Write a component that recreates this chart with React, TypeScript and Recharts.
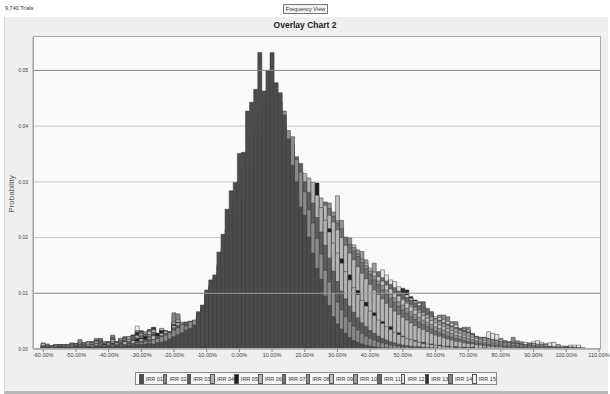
import { BarChart, Bar, XAxis, YAxis, CartesianGrid, ReferenceLine } from "recharts";

// bins are 1.25% wide, each series array starts at -60% (values in units of 0.0001)
const firstBin = -60;
const binStep = 1.25;

const seriesNames = [
  "IRR 01", "IRR 02", "IRR 03", "IRR 04", "IRR 05", "IRR 06", "IRR 07", "IRR 08",
  "IRR 09", "IRR 10", "IRR 11", "IRR 12", "IRR 13", "IRR 14", "IRR 15",
];

const seriesColors = [
  "#4c4c4c", "#8a8a8a", "#5e5e5e", "#b2b2b2", "#1e1e1e", "#b6b6b6", "#727272", "#909090",
  "#bebebe", "#9c9c9c", "#6a6a6a", "#e2e2e2", "#2a2a2a", "#888888", "#ececec",
];

const irr01 = [
  2, 3, 2, 3, 2, 3, 3, 2,
  3, 4, 3, 4, 3, 4, 5, 4,
  5, 4, 6, 5, 6, 7, 6, 8,
  8, 9, 10, 9, 11, 12, 14, 18,
  22, 26, 29, 34, 37, 43, 67, 79,
  106, 124, 133, 174, 206, 251, 284, 299,
  351, 353, 427, 443, 466, 532, 463, 500,
  532, 478, 460, 420, 377, 330, 300, 255,
  240, 201, 172, 145, 125, 95, 78, 58,
  45, 36, 28, 21, 15, 12, 9, 7,
  5, 4, 3, 2, 2, 1, 1, 1,
  1, 0, 0, 0, 0, 0, 0, 0,
];

const irr02 = [
  1, 2, 1, 2, 2, 1, 2, 3,
  3, 2, 4, 3, 3, 4, 5, 4,
  5, 6, 5, 7, 8, 9, 8, 11,
  12, 14, 13, 17, 19, 22, 25, 29,
  34, 38, 44, 41, 49, 52, 64, 78,
  98, 114, 128, 152, 180, 214, 240, 268,
  300, 322, 350, 381, 400, 421, 440, 452,
  461, 455, 442, 427, 392, 381, 340, 318,
  282, 250, 226, 198, 170, 141, 120, 101,
  84, 70, 58, 49, 41, 34, 28, 23,
  19, 16, 13, 11, 9, 7, 6, 5,
  4, 4, 3, 3, 2, 2, 2, 1,
  1, 1, 1, 1, 0, 1, 0, 0,
];

const irr03 = [
  2, 1, 2, 2, 3, 2, 2, 3,
  3, 4, 3, 5, 4, 4, 6, 5,
  7, 6, 8, 9, 8, 11, 10, 13,
  14, 16, 18, 17, 22, 24, 28, 31,
  38, 42, 45, 48, 50, 51, 62, 74,
  96, 110, 126, 148, 170, 196, 222, 247,
  272, 296, 318, 340, 362, 378, 392, 404,
  410, 414, 408, 397, 380, 366, 345, 333,
  300, 281, 262, 236, 210, 186, 163, 140,
  121, 104, 90, 77, 66, 56, 47, 40,
  33, 28, 23, 19, 16, 13, 11, 9,
  7, 6, 5, 4, 4, 3, 2, 2,
  2, 1, 1, 1, 1, 1, 0, 0,
  1, 0, 0, 0, 0, 0, 0, 0,
];

const irr04 = [
  3, 2, 4, 3, 2, 4, 3, 5,
  4, 6, 5, 4, 7, 6, 8, 7,
  9, 8, 11, 10, 13, 12, 15, 14,
  18, 17, 21, 24, 23, 28, 32, 30,
  42, 47, 48, 46, 49, 50, 60, 72,
  92, 106, 120, 138, 154, 176, 198, 220,
  244, 266, 288, 306, 322, 338, 350, 360,
  366, 372, 370, 364, 356, 348, 332, 318,
  315, 307, 299, 276, 254, 231, 210, 190,
  172, 154, 139, 124, 110, 98, 87, 77,
  68, 60, 52, 46, 40, 35, 30, 26,
  22, 19, 17, 14, 12, 10, 9, 8,
  7, 6, 5, 4, 4, 3, 3, 2,
  2, 2, 1, 1, 1, 1, 1, 0,
  0, 0, 1, 0, 0, 0, 0, 0,
];

const irr05 = [
  2, 3, 2, 3, 4, 3, 4, 3,
  5, 4, 6, 5, 7, 6, 7, 9,
  8, 10, 12, 11, 14, 13, 16, 18,
  20, 23, 22, 26, 28, 33, 31, 29,
  44, 48, 46, 44, 48, 47, 58, 70,
  90, 102, 116, 130, 146, 162, 180, 200,
  218, 238, 256, 274, 290, 302, 316, 324,
  332, 338, 340, 336, 330, 322, 314, 304,
  290, 284, 272, 298, 250, 226, 216, 186,
  165, 162, 134, 133, 106, 105, 83, 84,
  66, 65, 50, 49, 38, 40, 28, 29,
  23, 18, 16, 15, 11, 12, 8, 9,
  6, 7, 4, 5, 3, 4, 2, 3,
  2, 3, 1, 1, 2, 1, 0, 1,
  1, 0, 1, 0, 0, 1, 0, 0,
];

const irr06 = [
  3, 4, 3, 5, 4, 4, 6, 5,
  6, 5, 7, 8, 6, 9, 8, 10,
  11, 10, 13, 12, 15, 17, 16, 19,
  22, 21, 25, 28, 27, 32, 31, 31,
  40, 45, 44, 47, 46, 48, 56, 66,
  86, 98, 110, 122, 136, 150, 166, 184,
  200, 216, 232, 248, 262, 276, 288, 298,
  306, 312, 316, 318, 316, 310, 304, 298,
  288, 280, 270, 262, 271, 258, 240, 228,
  214, 200, 186, 172, 160, 148, 136, 126,
  116, 106, 98, 90, 82, 75, 68, 62,
  57, 52, 47, 42, 38, 35, 31, 28,
  25, 23, 20, 18, 16, 14, 13, 11,
  10, 9, 8, 7, 6, 5, 5, 4,
  4, 3, 3, 3, 2, 2, 2, 1,
  1, 1, 1, 1, 1, 0, 0, 0,
];

const irr07 = [
  4, 3, 5, 4, 6, 5, 5, 7,
  6, 8, 7, 9, 8, 10, 11, 10,
  12, 10, 13, 16, 15, 18, 20, 19,
  23, 26, 25, 29, 26, 30, 32, 30,
  42, 47, 45, 44, 47, 46, 55, 64,
  82, 92, 102, 112, 124, 136, 150, 165,
  180, 194, 208, 222, 236, 248, 258, 268,
  276, 282, 287, 290, 292, 291, 288, 284,
  279, 272, 264, 256, 248, 264, 252, 238,
  226, 216, 201, 188, 176, 166, 155, 144,
  134, 124, 115, 106, 98, 91, 84, 77,
  70, 64, 58, 53, 48, 44, 40, 36,
  32, 29, 26, 23, 21, 19, 17, 15,
  13, 12, 11, 10, 9, 8, 7, 6,
  5, 5, 4, 4, 3, 3, 3, 2,
  2, 2, 1, 1, 1, 1, 1, 0,
];

const irr08 = [
  4, 5, 4, 6, 5, 7, 6, 6,
  8, 7, 9, 8, 11, 10, 12, 11,
  13, 14, 12, 16, 18, 17, 21, 20,
  24, 27, 26, 30, 28, 32, 30, 29,
  44, 46, 43, 45, 47, 49, 54, 62,
  78, 86, 96, 106, 116, 127, 138, 152,
  165, 178, 190, 203, 215, 226, 236, 245,
  252, 258, 263, 266, 268, 269, 268, 266,
  262, 258, 252, 246, 240, 234, 262, 246,
  230, 231, 196, 199, 182, 170, 160, 150,
  140, 131, 122, 114, 106, 99, 92, 85,
  79, 73, 67, 62, 57, 52, 48, 44,
  40, 37, 34, 31, 28, 25, 23, 21,
  19, 17, 15, 14, 12, 11, 10, 9,
  8, 7, 6, 6, 5, 4, 4, 3,
  3, 3, 2, 2, 2, 2, 1, 1,
  1, 1, 0, 0, 0,
];

const irr09 = [
  5, 4, 6, 5, 7, 6, 8, 7,
  9, 8, 10, 12, 11, 13, 12, 13,
  13, 17, 13, 19, 18, 22, 21, 24,
  27, 26, 31, 34, 28, 37, 33, 31,
  48, 52, 47, 46, 48, 49, 56, 64,
  76, 82, 90, 98, 108, 117, 127, 138,
  149, 160, 171, 182, 192, 202, 211, 219,
  226, 232, 237, 241, 244, 246, 247, 246,
  245, 242, 238, 234, 229, 223, 216, 209,
  275, 194, 188, 180, 187, 170, 162, 154,
  145, 138, 130, 122, 115, 108, 101, 95,
  88, 82, 76, 70, 65, 60, 55, 51,
  47, 43, 40, 36, 33, 30, 28, 25,
  23, 21, 19, 17, 15, 14, 12, 11,
  10, 9, 8, 7, 6, 6, 5, 4,
  4, 3, 3, 3, 2, 2, 2, 1,
  1, 1, 1, 0, 0,
];

const irr10 = [
  5, 6, 5, 7, 6, 8, 7, 9,
  8, 10, 11, 10, 12, 14, 13, 12,
  12, 16, 11, 17, 20, 19, 23, 24,
  28, 31, 30, 34, 26, 33, 31, 29,
  47, 51, 46, 47, 48, 50, 57, 63,
  75, 80, 86, 93, 101, 109, 118, 127,
  137, 147, 157, 167, 177, 186, 195, 203,
  210, 216, 221, 225, 228, 230, 231, 231,
  230, 228, 225, 221, 217, 212, 206, 200,
  194, 187, 180, 173, 166, 178, 175, 160,
  138, 154, 128, 121, 114, 108, 102, 96,
  90, 85, 80, 75, 70, 66, 62, 58,
  54, 50, 46, 43, 40, 37, 34, 31,
  29, 26, 22, 20, 20, 18, 16, 15,
  13, 12, 11, 10, 9, 8, 7, 6,
  6, 5, 5, 4, 4, 3, 3, 2,
  2, 2, 1, 1, 0,
];

const irr11 = [
  6, 5, 4, 6, 8, 7, 6, 8,
  10, 9, 11, 13, 12, 14, 16, 12,
  12, 18, 12, 18, 21, 20, 24, 25,
  29, 30, 31, 35, 27, 34, 31, 30,
  46, 50, 47, 47, 49, 50, 58, 64,
  71, 76, 81, 87, 94, 101, 109, 117,
  126, 135, 144, 153, 162, 171, 179, 187,
  194, 200, 205, 209, 212, 215, 216, 217,
  217, 216, 214, 212, 208, 204, 200, 195,
  190, 185, 179, 173, 167, 160, 154, 147,
  141, 136, 139, 128, 122, 116, 110, 104,
  98, 93, 88, 83, 78, 85, 73, 67,
  55, 52, 48, 45, 42, 39, 36, 34,
  31, 28, 23, 21, 20, 19, 17, 16,
  14, 13, 12, 11, 10, 9, 8, 8,
  7, 6, 6, 5, 5, 4, 4, 3,
  3, 2, 2, 1, 1,
];

const irr12 = [
  9, 7, 5, 8, 7, 8, 7, 10,
  9, 12, 10, 11, 13, 15, 14, 11,
  11, 19, 12, 17, 19, 21, 22, 25,
  30, 29, 33, 36, 27, 35, 32, 28,
  47, 49, 46, 48, 47, 49, 57, 63,
  69, 73, 78, 84, 90, 96, 103, 111,
  119, 127, 135, 143, 151, 159, 166, 173,
  180, 186, 191, 195, 199, 202, 204, 205,
  206, 206, 205, 203, 201, 198, 195, 191,
  187, 182, 177, 172, 166, 161, 155, 149,
  143, 138, 132, 142, 133, 124, 121, 112,
  100, 97, 91, 86, 82, 78, 70, 64,
  58, 56, 52, 49, 46, 43, 37, 36,
  34, 26, 22, 20, 19, 31, 28, 26,
  17, 14, 13, 12, 11, 10, 12, 9,
  9, 8, 8, 7, 11, 12, 7, 5,
  4, 4, 3, 2, 1,
];

const irr13 = [
  8, 6, 5, 7, 6, 7, 8, 9,
  8, 11, 9, 12, 10, 16, 15, 12,
  12, 20, 11, 16, 19, 20, 25, 30,
  31, 28, 35, 39, 27, 34, 30, 29,
  48, 47, 45, 47, 46, 48, 57, 62,
  66, 70, 75, 81, 87, 93, 100, 107,
  115, 123, 131, 139, 147, 155, 162, 168,
  170, 176, 182, 187, 191, 194, 196, 198,
  198, 197, 195, 192, 189, 185, 181, 176,
  171, 166, 160, 155, 149, 143, 137, 131,
  125, 120, 114, 109, 104, 99, 94, 90,
  109, 106, 94, 88, 80, 76, 69, 63,
  57, 54, 50, 47, 44, 41, 36, 35,
  32, 27, 21, 19, 18, 17, 16, 15,
  14, 13, 12, 11, 10, 9, 9, 8,
  8, 7, 7, 6, 6, 5, 5, 4,
  4, 3, 3, 2, 1,
];

const irr14 = [
  10, 8, 6, 7, 8, 6, 7, 11,
  9, 17, 10, 12, 13, 19, 19, 13,
  13, 25, 13, 19, 22, 22, 25, 33,
  33, 30, 34, 37, 28, 36, 32, 30,
  65, 63, 47, 48, 49, 51, 56, 61,
  64, 68, 73, 78, 84, 90, 96, 103,
  110, 117, 124, 131, 138, 146, 152, 158,
  162, 168, 174, 179, 183, 186, 189, 190,
  191, 190, 188, 186, 183, 180, 176, 172,
  167, 162, 157, 151, 146, 140, 134, 128,
  122, 117, 112, 107, 102, 97, 92, 87,
  82, 78, 73, 69, 85, 72, 68, 62,
  56, 61, 61, 58, 49, 49, 37, 39,
  39, 27, 22, 20, 21, 18, 19, 17,
  19, 15, 13, 21, 15, 13, 11, 11,
  10, 9, 9, 8, 8, 7, 6, 4,
  4, 3, 3, 2, 1,
];

const irr15 = [
  11, 9, 6, 8, 7, 8, 8, 10,
  10, 15, 11, 13, 12, 17, 18, 12,
  12, 22, 12, 18, 21, 21, 24, 41,
  32, 29, 34, 38, 26, 35, 31, 29,
  60, 58, 46, 47, 48, 50, 55, 60,
  62, 66, 70, 75, 80, 86, 92, 98,
  104, 110, 116, 122, 128, 134, 140, 148,
  155, 160, 165, 170, 174, 177, 180, 182,
  183, 183, 182, 180, 178, 175, 172, 168,
  164, 159, 154, 149, 144, 139, 133, 128,
  122, 117, 112, 107, 102, 98, 93, 88,
  84, 79, 75, 71, 67, 63, 60, 56,
  53, 50, 47, 44, 41, 38, 35, 33,
  30, 25, 21, 19, 18, 16, 17, 15,
  13, 12, 11, 12, 10, 9, 8, 8,
  13, 15, 12, 10, 9, 8, 8, 5,
  5, 7, 7, 7, 3,
];

const seriesValues = [
  irr01, irr02, irr03, irr04, irr05, irr06, irr07, irr08,
  irr09, irr10, irr11, irr12, irr13, irr14, irr15,
];

const xTicks = [-60, -50, -40, -30, -20, -10, 0, 10, 20, 30, 40, 50, 60, 70, 80, 90, 100, 110];
const yTicks = [0, 0.01, 0.02, 0.03, 0.04, 0.05];

// categories from -62.5% to 110% so the axis runs a little past the data on both sides
const bins: number[] = [];
for (let k = 0; k < 139; k++) bins.push(-62.5 + binStep * k);

const data = bins.map((bin) => {
  const row: Record<string, number | null> = { bin };
  const idx = Math.round((bin - firstBin) / binStep);
  seriesNames.forEach((name, s) => {
    const v = seriesValues[s][idx];
    row[name] = idx >= 0 && v ? v / 10000 : null;
  });
  return row;
});

const font = "'Liberation Sans', Arial, sans-serif";
const PLOT_LEFT = 33;
const PLOT_TOP = 37;
const PLOT_W = 568;
const PLOT_H = 312;
const barW = PLOT_W / bins.length - 0.005;

function OverlayLegend() {
  return (
    <div
      style={{
        position: "absolute", left: 135, top: 372, width: 362, height: 13,
        border: "1px solid #8a8a8a", background: "#f6f6f6",
        display: "flex", alignItems: "center", paddingLeft: 3, boxSizing: "border-box",
      }}
    >
      {seriesNames.map((name, i) => (
        <div key={name} style={{ display: "flex", alignItems: "center", width: 23.8 }}>
          <div style={{ width: 5, height: 8, background: seriesColors[i], border: "0.5px solid #555", marginRight: 2 }} />
          <span style={{ fontSize: 5.5, color: "#333", fontFamily: font, whiteSpace: "nowrap" }}>{name}</span>
        </div>
      ))}
    </div>
  );
}

export default function App() {
  return (
    <div style={{ position: "absolute", left: 0, top: 0, width: 610, height: 394, background: "#ffffff", fontFamily: font, overflow: "hidden" }}>
      <div style={{ position: "absolute", left: 4, top: 17, width: 603, height: 374, background: "#efefef", borderBottom: "3px solid #b8b8b8", borderLeft: "1px solid #d8d8d8" }} />
      <div style={{ position: "absolute", left: 5, top: 5, fontSize: 5.5, color: "#333" }}>9,740 Trials</div>
      <div
        style={{
          position: "absolute", left: 283, top: 4, width: 45, height: 10, border: "1px solid #777",
          background: "#f4f4f4", fontSize: 5.5, color: "#333", textAlign: "center", lineHeight: "8px",
          boxSizing: "border-box", whiteSpace: "nowrap",
        }}
      >
        Frequency View
      </div>
      <div style={{ position: "absolute", left: 0, width: 610, top: 20, textAlign: "center", fontSize: 8.5, fontWeight: "bold", color: "#222" }}>
        Overlay Chart 2
      </div>
      <div
        style={{
          position: "absolute", left: 11, top: 194, fontSize: 8, color: "#555",
          transform: "translate(-50%, -50%) rotate(-90deg)", whiteSpace: "nowrap",
        }}
      >
        Probability
      </div>
      <div style={{ position: "absolute", left: 0, top: 0 }}>
        <BarChart
          width={610}
          height={394}
          data={data}
          margin={{ top: PLOT_TOP, right: 610 - PLOT_LEFT - PLOT_W, left: PLOT_LEFT - 25, bottom: 394 - PLOT_TOP - PLOT_H - 15 }}
          barGap={-barW}
          barCategoryGap={0}
        >
          <CartesianGrid horizontal vertical={false} stroke="#c6c6c6" fill="#fafafa" fillOpacity={1} horizontalValues={yTicks} />
          <ReferenceLine y={0.05} stroke="#8c8c8c" />
          <ReferenceLine y={0.01} stroke="#9a9a9a" />
          <XAxis
            dataKey="bin"
            type="category"
            ticks={xTicks}
            interval={0}
            height={15}
            tick={{ fontSize: 5.5, fill: "#444", fontFamily: font }}
            tickFormatter={(v: number) => `${v.toFixed(2)}%`}
            tickSize={3}
            tickMargin={1}
            axisLine={{ stroke: "#9a9a9a" }}
            tickLine={{ stroke: "#888" }}
          />
          <YAxis
            width={25}
            domain={[0, 0.056]}
            ticks={yTicks}
            type="number"
            allowDataOverflow
            tick={{ fontSize: 5, fill: "#444", fontFamily: font }}
            tickFormatter={(v: number) => v.toFixed(2)}
            tickSize={0}
            tickMargin={5}
            axisLine={{ stroke: "#9a9a9a" }}
          />
          {seriesNames
            .map((name, i) => ({ name, i }))
            .reverse()
            .map(({ name, i }) => (
              <Bar
                key={name}
                dataKey={name}
                barSize={barW}
                fill={seriesColors[i]}
                stroke="#3a3a3a"
                strokeWidth={0.5}
                isAnimationActive={false}
              />
            ))}
        </BarChart>
      </div>
      <div
        style={{
          position: "absolute", left: PLOT_LEFT, top: PLOT_TOP - 1, width: PLOT_W, height: PLOT_H + 1,
          border: "1px solid #a8a8a8", boxSizing: "border-box", pointerEvents: "none",
        }}
      />
      <OverlayLegend />
    </div>
  );
}
